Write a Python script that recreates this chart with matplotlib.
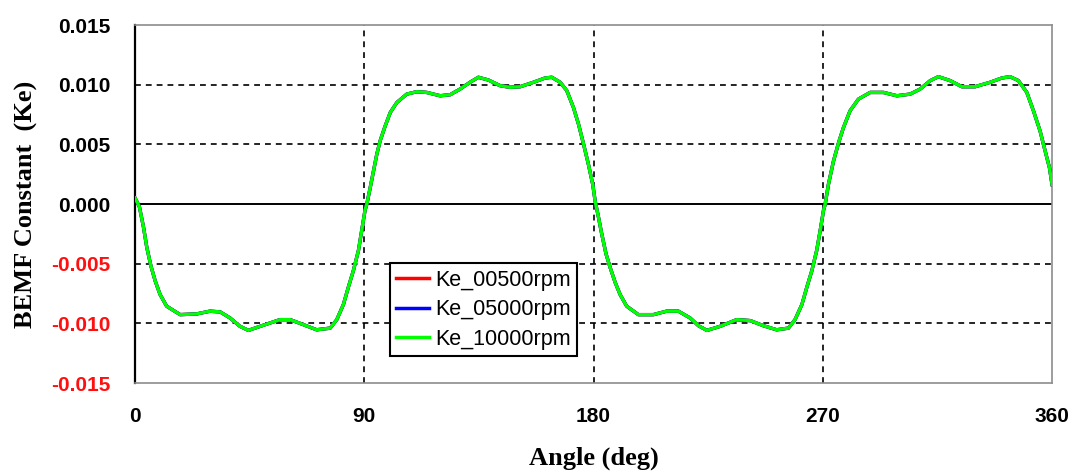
import numpy as np
import matplotlib
matplotlib.use("Agg")
import matplotlib.pyplot as plt

# angle (deg) and Ke
angle = [0.0, 0.4, 1.7, 3.3, 4.6, 6.2, 7.9, 9.8, 12.4, 17.7, 24.2, 29.4, 33.4,
         37.3, 41.2, 44.5, 49.1, 53.0, 56.9, 60.9, 66.1, 71.3, 76.6, 79.2,
         81.8, 83.7, 85.7, 87.7, 89.0, 90.3, 91.0, 92.3, 93.6, 94.9, 96.2,
         98.2, 100.2, 102.8, 106.7, 110.6, 114.5, 119.8, 123.7, 127.6, 131.5,
         134.8, 138.7, 143.3, 147.2, 151.2, 156.4, 161.0, 163.6, 166.9, 169.5,
         172.1, 174.1, 176.1, 178.0, 179.7, 180.6, 181.9, 183.2, 184.9, 186.5,
         188.5, 190.4, 193.0, 197.6, 203.5, 208.7, 213.3, 217.9, 221.2, 224.5,
         229.7, 236.2, 241.5, 246.7, 251.9, 256.5, 259.1, 261.8, 263.7, 265.7,
         267.6, 269.0, 270.3, 270.9, 272.2, 274.2, 276.2, 278.1, 280.7, 284.0,
         288.6, 293.8, 299.1, 304.3, 308.2, 312.2, 315.4, 320.0, 324.6, 329.8,
         335.7, 340.3, 343.5, 346.8, 350.1, 352.7, 355.3, 357.3, 359.0, 360.0]
ke_10000 = [0.00050, 0.00034, -0.00023, -0.00192, -0.00362, -0.00517, -0.00644,
            -0.00757, -0.00856, -0.00927, -0.00921, -0.00898, -0.00904,
            -0.00955, -0.01025, -0.01059, -0.01025, -0.00997, -0.00969,
            -0.00969, -0.01011, -0.01054, -0.01040, -0.00969, -0.00842,
            -0.00700, -0.00559, -0.00390, -0.00220, -0.00051, 0.00000, 0.00135,
            0.00275, 0.00416, 0.00528, 0.00654, 0.00767, 0.00851, 0.00921,
            0.00941, 0.00935, 0.00907, 0.00916, 0.00963, 0.01020, 0.01062,
            0.01039, 0.00992, 0.00978, 0.00983, 0.01020, 0.01056, 0.01062,
            0.01020, 0.00950, 0.00809, 0.00669, 0.00500, 0.00331, 0.00163,
            0.00028, -0.00107, -0.00249, -0.00418, -0.00531, -0.00658,
            -0.00757, -0.00856, -0.00927, -0.00927, -0.00898, -0.00898,
            -0.00955, -0.01020, -0.01059, -0.01025, -0.00969, -0.00977,
            -0.01020, -0.01054, -0.01040, -0.00969, -0.00842, -0.00700,
            -0.00559, -0.00390, -0.00220, -0.00051, -0.00005, 0.00163, 0.00360,
            0.00514, 0.00640, 0.00781, 0.00879, 0.00935, 0.00935, 0.00907,
            0.00921, 0.00963, 0.01034, 0.01067, 0.01034, 0.00983, 0.00983,
            0.01020, 0.01056, 0.01067, 0.01034, 0.00935, 0.00781, 0.00612,
            0.00444, 0.00303, 0.00163]
# the three speeds overlap exactly in the reference
ke_00500 = list(ke_10000)
ke_05000 = list(ke_10000)

series_names = ["Ke_00500rpm", "Ke_05000rpm", "Ke_10000rpm"]
series_colors = ["#ff0000", "#0000ff", "#00ff00"]

xticks = [0, 90, 180, 270, 360]
yticks = [-0.015, -0.010, -0.005, 0.000, 0.005, 0.010, 0.015]
ytick_labels = ["-0.015", "-0.010", "-0.005", "0.000", "0.005", "0.010", "0.015"]

fig = plt.figure(figsize=(10.71, 4.71), dpi=100)
ax = fig.add_axes([0.1261, 0.1868, 0.8562, 0.7601])

for ys, name, c in zip([ke_00500, ke_05000, ke_10000], series_names, series_colors):
    ax.plot(angle, ys, color=c, lw=2.4, label=name, zorder=3)

ax.set_xlim(0, 360)
ax.set_ylim(-0.015, 0.015)
ax.set_xticks(xticks)
ax.set_yticks(yticks)
ax.set_yticklabels(ytick_labels)

# dashed grid, solid zero line
for v in [90, 180, 270]:
    ax.axvline(v, color="black", lw=1.2, ls=(0, (3.5, 3)), zorder=1)
for v in [-0.010, -0.005, 0.005, 0.010]:
    ax.axhline(v, color="black", lw=1.2, ls=(0, (3.5, 3)), zorder=1)
ax.axhline(0, color="black", lw=1.4, zorder=2)

for side in ["top", "right", "bottom"]:
    ax.spines[side].set_color("#8c8c8c")
    ax.spines[side].set_linewidth(1.2)
ax.spines["left"].set_color("black")
ax.spines["left"].set_linewidth(1.6)

ax.tick_params(axis="both", length=0)
ax.tick_params(axis="x", pad=17)
ax.tick_params(axis="y", pad=18)
for lab in ax.get_xticklabels() + ax.get_yticklabels():
    lab.set_fontfamily("Liberation Sans")
    lab.set_fontweight("bold")
    lab.set_fontsize(15)
for lab, v in zip(ax.get_yticklabels(), yticks):
    if v < 0:
        lab.set_color("#ff1010")

ax.set_xlabel("Angle (deg)", family="Liberation Serif", fontweight="bold",
              fontsize=19, labelpad=15)
ax.set_ylabel("BEMF Constant  (Ke)", family="Liberation Serif",
              fontweight="bold", fontsize=19, labelpad=9)

leg = ax.legend(loc="upper left", bbox_to_anchor=(0.278, 0.335),
                borderaxespad=0, fancybox=False, framealpha=1,
                edgecolor="black", handlelength=1.5, handletextpad=0.3,
                labelspacing=0.4, borderpad=0.3,
                prop={"family": "Liberation Sans", "size": 15.5})
leg.get_frame().set_linewidth(1.5)
for h in leg.get_lines():
    h.set_linewidth(2.5)

fig.savefig("out.png", dpi=100)
